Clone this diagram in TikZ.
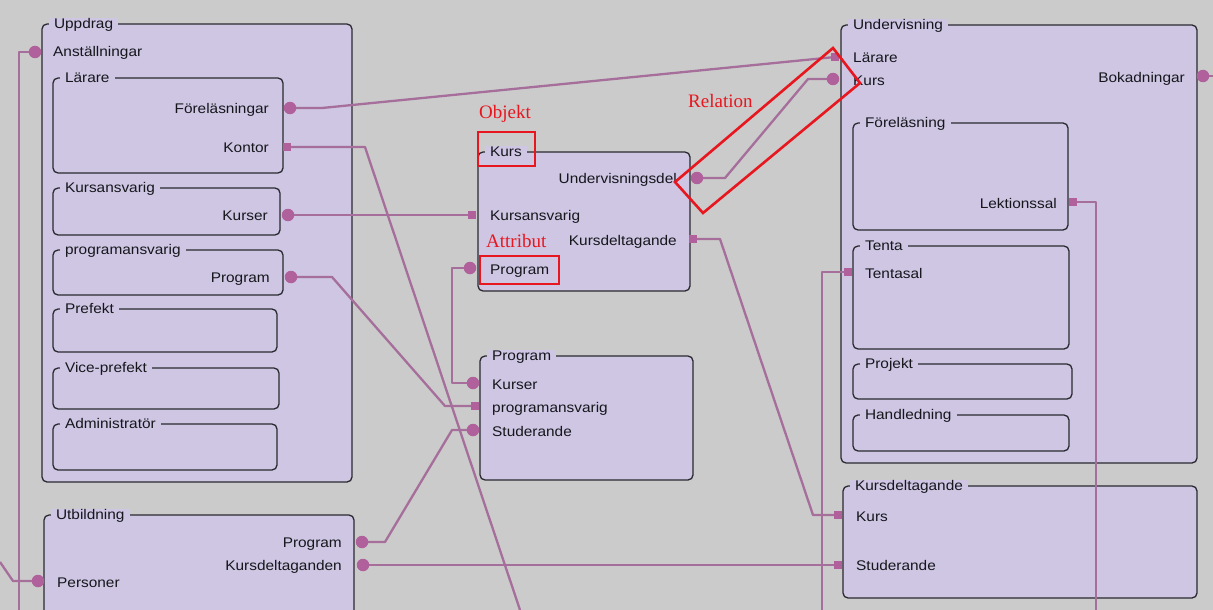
\documentclass[tikz,border=0pt]{standalone}
\usepackage{fontspec}
\setmainfont[FakeStretch=1.1]{Liberation Sans}
\newfontfamily\notefont{Liberation Serif}
\usetikzlibrary{fit}
\pgfdeclarelayer{bg}
\pgfdeclarelayer{wires}
\pgfsetlayers{bg,wires,main}

\definecolor{canvas}{HTML}{CBCBCB}
\definecolor{panelfill}{HTML}{CEC6E3}
\definecolor{panelline}{HTML}{2A2A30}
\definecolor{wirec}{HTML}{A66E9B}
\definecolor{markc}{HTML}{B0619C}
\definecolor{inkc}{HTML}{16161C}
\definecolor{notec}{HTML}{E8161E}

\tikzset{
  panel/.style={draw=panelline, fill=panelfill, line width=1.3pt,
    rounded corners=5pt, inner sep=0pt},
  ttl/.style={fill=panelfill, inner xsep=5pt, inner ysep=1pt, text=inkc,
    font=\fontsize{14}{16}\selectfont},
  lbl/.style={inner sep=0pt, text=inkc, font=\fontsize{14}{16}\selectfont},
  dotm/.style={circle, fill=markc, minimum size=12.5pt, inner sep=0pt},
  sqm/.style={rectangle, fill=markc, minimum size=8.5pt, inner sep=0pt},
  wire/.style={draw=wirec, line width=2.3pt, line join=round},
  note/.style={text=notec, inner sep=0pt, font=\notefont\fontsize{19}{21}\selectfont},
  notebox/.style={draw=notec, line width=2.6pt}
}

% rounded panel with its title set into the top edge
\newcommand\mkpanel[6]{%
  \begin{pgfonlayer}{bg}
    \node[panel, fit={(#2,#3) (#4,#5)}] (#1) {};
  \end{pgfonlayer}
  \node[ttl, anchor=base west] (#1-t) at ([xshift=7.5pt, yshift=-5.5pt]#1.north west) {#6};}

\begin{document}
\begin{tikzpicture}[x=1pt, y=-1pt]
\begin{pgfonlayer}{bg}
  \fill[canvas] (0,0) rectangle (1213,610);
\end{pgfonlayer}
\useasboundingbox (0,0) rectangle (1213,610);

% ---------- Uppdrag ----------
\mkpanel{uppdrag}{42}{24}{352}{482}{Uppdrag}
\mkpanel{larare}{53}{78}{283}{173}{Lärare}
\mkpanel{kansv}{53}{188}{280}{235}{Kursansvarig}
\mkpanel{pansv}{53}{250}{283}{295}{programansvarig}
\mkpanel{prefekt}{53}{309}{277}{352}{Prefekt}
\mkpanel{vice}{53}{368}{279}{409}{Vice-prefekt}
\mkpanel{admin}{53}{424}{277}{470}{Administratör}

\node[lbl, anchor=base west] (t-anst) at (53,57) {Anställningar};
\node[lbl, anchor=base east] (t-forel) at (269,113) {Föreläsningar};
\node[lbl, anchor=base east] (t-kontor) at (269,152) {Kontor};
\node[lbl, anchor=base east] (t-kurser) at (268,220) {Kurser};
\node[lbl, anchor=base east] (t-prog1) at (270,282) {Program};

% ---------- Utbildning ----------
\mkpanel{utb}{44}{515}{354}{640}{Utbildning}
\node[lbl, anchor=base east] (t-uprog) at (342,547) {Program};
\node[lbl, anchor=base east] (t-ukdt) at (342,570) {Kursdeltaganden};
\node[lbl, anchor=base west] (t-pers) at (57,587) {Personer};

% ---------- Kurs ----------
\mkpanel{kurs}{478}{152}{690}{291}{Kurs}
\node[lbl, anchor=base east] (t-udel) at (677,183) {Undervisningsdel};
\node[lbl, anchor=base west] (t-kansv) at (490,220) {Kursansvarig};
\node[lbl, anchor=base east] (t-kkdt) at (677,245) {Kursdeltagande};
\node[lbl, anchor=base west] (t-kprog) at (490,274) {Program};

% ---------- Program ----------
\mkpanel{prog}{480}{356}{693}{480}{Program}
\node[lbl, anchor=base west] (t-pkurser) at (492,389) {Kurser};
\node[lbl, anchor=base west] (t-pansv) at (492,412) {programansvarig};
\node[lbl, anchor=base west] (t-pstud) at (492,436) {Studerande};

% ---------- Undervisning ----------
\mkpanel{underv}{841}{25}{1197}{463}{Undervisning}
\mkpanel{forel}{853}{123}{1068}{230}{Föreläsning}
\mkpanel{tenta}{853}{246}{1069}{349}{Tenta}
\mkpanel{projekt}{853}{364}{1072}{399}{Projekt}
\mkpanel{handl}{853}{415}{1069}{451}{Handledning}
\node[lbl, anchor=base west] (t-larare) at (853,63) {Lärare};
\node[lbl, anchor=base west] (t-ukurs) at (853,85) {Kurs};
\node[lbl, anchor=base east] (t-bok) at (1185,82) {Bokadningar};
\node[lbl, anchor=base east] (t-lekt) at (1057,208) {Lektionssal};
\node[lbl, anchor=base west] (t-tent) at (865,278) {Tentasal};

% ---------- Kursdeltagande ----------
\mkpanel{kdt}{843}{486}{1197}{598}{Kursdeltagande}
\node[lbl, anchor=base west] (t-kdkurs) at (856,521) {Kurs};
\node[lbl, anchor=base west] (t-kdstud) at (856,570) {Studerande};

% ---------- attribute markers ----------
\node[dotm] (m-anst) at (35,52) {};
\node[dotm] (m-forel) at (290,108) {};
\node[sqm]  (m-kontor) at (287,147) {};
\node[dotm] (m-kurser) at (288,215) {};
\node[dotm] (m-prog1) at (291,277) {};
\node[dotm] (m-uprog) at (362,542) {};
\node[dotm] (m-ukdt) at (363,565) {};
\node[dotm] (m-pers) at (38,581) {};
\node[dotm] (m-udel) at (697,178) {};
\node[sqm]  (m-kansv) at (472,215) {};
\node[sqm]  (m-kkdt) at (693,239) {};
\node[dotm] (m-kprog) at (470,268) {};
\node[dotm] (m-pkurser) at (473,383) {};
\node[sqm]  (m-pansv) at (475,406) {};
\node[dotm] (m-pstud) at (473,430) {};
\node[sqm]  (m-larare) at (835,57) {};
\node[dotm] (m-ukurs) at (833,79) {};
\node[dotm] (m-bok) at (1203,76) {};
\node[sqm]  (m-lekt) at (1073,202) {};
\node[sqm]  (m-tent) at (848,272) {};
\node[sqm]  (m-kdkurs) at (838,515) {};
\node[sqm]  (m-kdstud) at (838,565) {};

% loose ends leaving the sheet
\coordinate (x-anst) at (19,610);
\coordinate (x-pers) at (0,562);
\coordinate (x-kontor) at (520,610);
\coordinate (x-lekt) at (1096,610);
\coordinate (x-tent) at (822,610);
\coordinate (x-bok) at (1213,76);

% ---------- relations ----------
\begin{pgfonlayer}{wires}
  \draw[wire] (m-anst.center) -| (x-anst);
  \draw[wire] (m-pers.center) -- (13,581) -- (x-pers);
  \draw[wire] (m-forel.center) -- (322,108) -- (m-larare.center);
  \draw[wire] (m-kontor.center) -- (365,147) -- (x-kontor);
  \draw[wire] (m-kurser.center) -- (m-kansv.center);
  \draw[wire] (m-prog1.center) -- (332,277) -- (445,406) -- (m-pansv.center);
  \draw[wire] (m-kprog.center) -- (452,268) |- (m-pkurser.center);
  \draw[wire] (m-pstud.center) -- (452,430) -- (385,542) -- (m-uprog.center);
  \draw[wire] (m-ukdt.center) -- (m-kdstud.center);
  \draw[wire] (m-udel.center) -- (725,178) -- (808,79) -- (m-ukurs.center);
  \draw[wire] (m-kkdt.center) -- (720,239) -- (813,515) -- (m-kdkurs.center);
  \draw[wire] (m-lekt.center) -| (x-lekt);
  \draw[wire] (m-tent.center) -| (x-tent);
  \draw[wire] (m-bok.center) -- (x-bok);
\end{pgfonlayer}

% ---------- red annotations ----------
\node[note, anchor=base west] (n-obj) at (479,118) {Objekt};
\node[note, anchor=base west] (n-attr) at (486,247) {Attribut};
\node[note, anchor=base west] (n-rel) at (688,107) {Relation};
\draw[notebox] (478,132) rectangle (535,166);
\draw[notebox] (480,256) rectangle (559,284);
\draw[notebox] (675,182) -- (703,213) -- (860,83) -- (833,48) -- cycle;
\end{tikzpicture}
\end{document}
